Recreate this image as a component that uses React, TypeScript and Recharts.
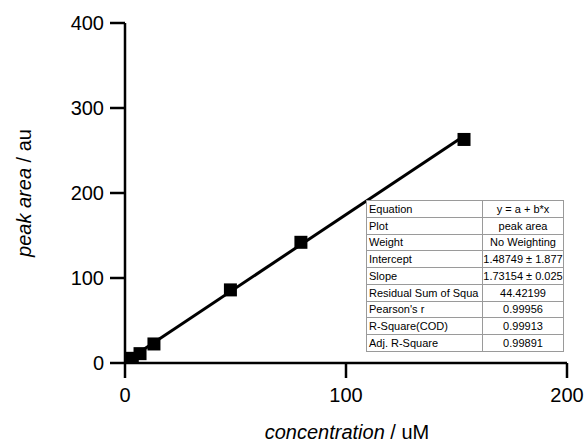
import React from 'react';
import { ComposedChart, Scatter, XAxis, YAxis } from 'recharts';

// calibration points (concentration in uM, peak area in au)
const concentration = [3.3, 6.8, 13.1, 47.7, 79.6, 153.4];
const peakArea = [5.5, 11.0, 22.4, 86.0, 142.0, 263.0];

const xTicks = [0, 100, 200];
const yTicks = [0, 100, 200, 300, 400];

// linear fit results, as listed in the stats box
const intercept = 1.48749;
const slope = 1.73154;

const fitRows: [string, string][] = [
	['Equation', 'y = a + b*x'],
	['Plot', 'peak area'],
	['Weight', 'No Weighting'],
	['Intercept', '1.48749 ± 1.877'],
	['Slope', '1.73154 ± 0.025'],
	['Residual Sum of Squa', '44.42199'],
	["Pearson's r", '0.99956'],
	['R-Square(COD)', '0.99913'],
	['Adj. R-Square', '0.99891'],
];

const points = concentration.map((x, i) => ({ x, y: peakArea[i] }));

// fitted line spans the first to the last standard
const fitX = [concentration[0], concentration[concentration.length - 1]];
const fitLine = fitX.map((x) => ({ x, y: intercept + slope * x }));

const FONT = 'Arial, "Liberation Sans", sans-serif';

function SquareDot(props: any) {
	const { cx, cy } = props;
	if (cx == null || cy == null) return null;
	return <rect x={cx - 6.5} y={cy - 6.5} width={13} height={13} fill="#000" />;
}

const tickStyle = { fill: '#000', fontSize: 20, fontFamily: FONT };

export default function App() {
	return (
		<div style={{ position: 'absolute', left: 0, top: 0, width: 587, height: 444, background: '#fff' }}>
			<ComposedChart
				width={587}
				height={444}
				margin={{ top: 23, right: 20, bottom: 21, left: 65 }}
			>
				<XAxis
					type="number"
					dataKey="x"
					domain={[0, 200]}
					ticks={xTicks}
					tickSize={15}
					tickMargin={10}
					axisLine={{ stroke: '#000', strokeWidth: 2.5 }}
					tickLine={{ stroke: '#000', strokeWidth: 2.5 }}
					tick={tickStyle}
					height={60}
					allowDataOverflow
				/>
				<YAxis
					type="number"
					dataKey="y"
					domain={[0, 400]}
					ticks={yTicks}
					tickSize={15}
					tickMargin={6}
					axisLine={{ stroke: '#000', strokeWidth: 2.5 }}
					tickLine={{ stroke: '#000', strokeWidth: 2.5 }}
					tick={tickStyle}
					width={60}
					allowDataOverflow
				/>
				<Scatter
					data={fitLine}
					line={{ stroke: '#000', strokeWidth: 3 }}
					shape={() => null}
					isAnimationActive={false}
				/>
				<Scatter data={points} shape={<SquareDot />} isAnimationActive={false} />
			</ComposedChart>

			<svg width={587} height={444} style={{ position: 'absolute', left: 0, top: 0, pointerEvents: 'none' }}>
				<text x={347} y={439} textAnchor="middle" fontSize={20} fontFamily={FONT} fill="#000">
					<tspan fontStyle="italic">concentration</tspan> / uM
				</text>
				<text
					x={0}
					y={0}
					transform="translate(31,193) rotate(-90)"
					textAnchor="middle"
					fontSize={20}
					fontFamily={FONT}
					fill="#000"
				>
					<tspan fontStyle="italic">peak area</tspan> / au
				</text>
			</svg>

			<table
				style={{
					position: 'absolute',
					left: 366,
					top: 200,
					width: 198,
					height: 152,
					borderCollapse: 'collapse',
					fontFamily: FONT,
					fontSize: 11,
					color: '#000',
					background: '#fff',
					border: '1px solid #666',
				}}
			>
				<tbody>
					{fitRows.map(([k, v]) => (
						<tr key={k}>
							<td style={{ border: '1px solid #9a9a9a', width: 111, padding: '0 2px', whiteSpace: 'nowrap', overflow: 'hidden' }}>{k}</td>
							<td style={{ border: '1px solid #9a9a9a', padding: 0, textAlign: 'center', whiteSpace: 'nowrap' }}>{v}</td>
						</tr>
					))}
				</tbody>
			</table>
		</div>
	);
}
